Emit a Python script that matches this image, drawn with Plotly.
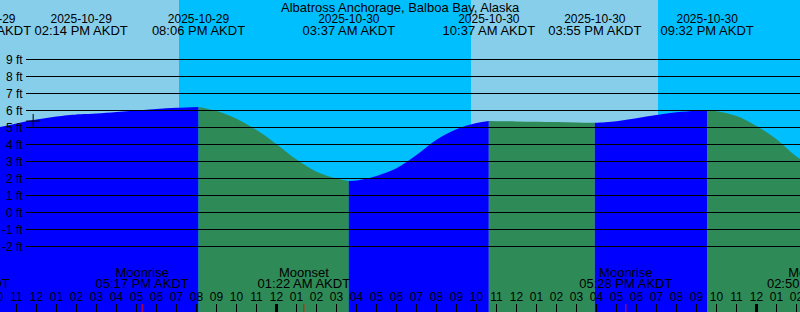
import plotly.graph_objects as go
import pandas as pd

# ---------------- data ----------------
station = "Albatross Anchorage, Balboa Bay, Alaska"
tz_label = "AKDT"

curve_times = [
    "2025-10-29 10:00", "2025-10-29 11:00", "2025-10-29 12:00", "2025-10-29 13:00",
    "2025-10-29 14:00", "2025-10-29 14:14", "2025-10-29 15:00", "2025-10-29 16:00",
    "2025-10-29 17:00", "2025-10-29 18:00", "2025-10-29 19:00", "2025-10-29 20:06",
    "2025-10-29 21:00", "2025-10-29 22:00", "2025-10-29 23:00", "2025-10-30 00:00",
    "2025-10-30 01:00", "2025-10-30 02:00", "2025-10-30 03:00", "2025-10-30 03:37",
    "2025-10-30 04:00", "2025-10-30 05:00", "2025-10-30 06:00", "2025-10-30 07:00",
    "2025-10-30 08:00", "2025-10-30 09:00", "2025-10-30 10:00", "2025-10-30 10:37",
    "2025-10-30 11:00", "2025-10-30 12:00", "2025-10-30 13:00", "2025-10-30 14:00",
    "2025-10-30 15:00", "2025-10-30 15:55", "2025-10-30 16:00", "2025-10-30 17:00",
    "2025-10-30 18:00", "2025-10-30 19:00", "2025-10-30 20:00", "2025-10-30 21:00",
    "2025-10-30 21:32", "2025-10-30 22:00", "2025-10-30 23:00", "2025-10-31 00:00",
    "2025-10-31 01:00", "2025-10-31 02:00", "2025-10-31 03:00",
]
curve_feet = [
    4.98, 5.24, 5.47, 5.65,
    5.77, 5.78, 5.82, 5.91,
    6.00, 6.09, 6.16, 6.21,
    5.97, 5.52, 4.85, 4.02,
    3.12, 2.40, 2.00, 1.85,
    1.88, 2.15, 2.60, 3.38,
    4.28, 4.90, 5.26, 5.38,
    5.37, 5.36, 5.34, 5.32,
    5.30, 5.28, 5.28, 5.37,
    5.54, 5.73, 5.89, 5.98,
    6.01, 5.96, 5.68, 5.09,
    4.31, 3.30, 2.60,
]

extreme_times = ["2025-10-29 20:06", "2025-10-30 03:37", "2025-10-30 10:37",
                 "2025-10-30 15:55", "2025-10-30 21:32"]

tide_label_times = ["2025-10-29 09:25", "2025-10-29 14:14", "2025-10-29 20:06",
                    "2025-10-30 03:37", "2025-10-30 10:37", "2025-10-30 15:55",
                    "2025-10-30 21:32"]

moon_times = ["2025-10-29 08:21", "2025-10-29 17:17", "2025-10-30 01:22",
              "2025-10-30 17:28", "2025-10-31 02:50"]
moon_names = ["First Quarter", "Moonrise", "Moonset", "Moonrise", "Moonset"]
moon_ticks = ["2025-10-29 17:17", "2025-10-30 01:22", "2025-10-30 17:28"]

sunset_sunrise = ["2025-10-29 19:07:30", "2025-10-30 09:43:30", "2025-10-30 19:04:30"]

grid_feet = [-2, -1, 0, 1, 2, 3, 4, 5, 6, 7, 8, 9]

now_time = "2025-10-29 11:50"
now_feet = 5.38

view_start = pd.Timestamp("2025-10-29 10:10:30")
view_end = pd.Timestamp("2025-10-31 02:10:30")
feet_range = [-5.853, 12.5]

# ---------------- style ----------------
W, H = 800, 312
DAY = "#87CEEB"
NIGHT = "#00BFFF"
FLOOD = "#0000FF"
EBB = "#2E8B57"
FONT = "Liberation Sans, Arial, sans-serif"
FS_SMALL = 12
FS_BIG = 13


def ypx(p):
    """pixel row -> feet on the y axis"""
    return feet_range[1] - p * (feet_range[1] - feet_range[0]) / H


def font(size):
    return dict(family=FONT, size=size, color="black")


ct = pd.to_datetime(curve_times)
ext = pd.to_datetime(extreme_times)

fig = go.Figure()

# day / night sky
bounds = [view_start] + list(pd.to_datetime(sunset_sunrise)) + [view_end]
shapes = []
for i in range(len(bounds) - 1):
    shapes.append(dict(type="rect", xref="x", yref="paper", x0=bounds[i], x1=bounds[i + 1],
                       y0=0, y1=1, fillcolor=DAY if i % 2 == 0 else NIGHT,
                       line=dict(width=0), layer="below"))

# water fill, coloured by rising (flood) / falling (ebb)
seg_bounds = [ct[0]] + list(ext) + [ct[-1]]
ybot = feet_range[0]
for i in range(len(seg_bounds) - 1):
    a, b = seg_bounds[i], seg_bounds[i + 1]
    xs = [t for t in ct if a <= t <= b]
    ys = [f for t, f in zip(ct, curve_feet) if a <= t <= b]
    col = FLOOD if ys[-1] > ys[0] else EBB
    fig.add_trace(go.Scatter(x=[a, b], y=[ybot, ybot], mode="lines",
                             line=dict(width=0), hoverinfo="skip", showlegend=False))
    fig.add_trace(go.Scatter(x=xs, y=ys, mode="lines", fill="tonexty", fillcolor=col,
                             line=dict(width=0, shape="spline", smoothing=1),
                             hoverinfo="skip", showlegend=False))

# horizontal grid lines (drawn above water)
for f in grid_feet:
    shapes.append(dict(type="line", xref="paper", yref="y", x0=26 / W, x1=1, y0=f, y1=f,
                       line=dict(color="black", width=1), layer="above"))

annotations = []
for f in grid_feet:
    annotations.append(dict(xref="paper", yref="y", x=24 / W, y=f, xanchor="right",
                            yanchor="middle", text=f"{f} ft", showarrow=False, borderpad=0,
                            font=font(FS_SMALL)))

# hour ticks and labels
hours = pd.date_range("2025-10-29 10:00", "2025-10-31 03:00", freq="h")
tx, ty, mx, my = [], [], [], []
for h in hours:
    if h.hour == 0:
        mx += [h, h, None]
        my += [ypx(304), ypx(312), None]
    else:
        tx += [h, h, None]
        ty += [ypx(304), ypx(312), None]
fig.add_trace(go.Scatter(x=tx, y=ty, mode="lines", line=dict(color="black", width=1),
                         hoverinfo="skip", showlegend=False))
fig.add_trace(go.Scatter(x=mx, y=my, mode="lines", line=dict(color="black", width=3),
                         hoverinfo="skip", showlegend=False))
rx, ry = [], []
for m in pd.to_datetime(moon_ticks):
    rx += [m, m, None]
    ry += [ypx(304), ypx(312), None]
fig.add_trace(go.Scatter(x=rx, y=ry, mode="lines", line=dict(color="red", width=1),
                         hoverinfo="skip", showlegend=False))
fig.add_trace(go.Scatter(x=hours, y=[ypx(297.5)] * len(hours), mode="text",
                         text=[h.strftime("%I") for h in hours], textposition="middle center",
                         textfont=font(FS_SMALL), hoverinfo="skip", showlegend=False))

# tide event labels (top)
tl = pd.to_datetime(tide_label_times)
fig.add_trace(go.Scatter(x=tl, y=[ypx(19.5)] * len(tl), mode="text",
                         text=[t.strftime("%Y-%m-%d") for t in tl], textposition="middle center",
                         textfont=font(FS_SMALL), hoverinfo="skip", showlegend=False))
fig.add_trace(go.Scatter(x=tl, y=[ypx(31.3)] * len(tl), mode="text",
                         text=[t.strftime("%I:%M %p ") + tz_label for t in tl],
                         textposition="middle center",
                         textfont=font(FS_BIG), hoverinfo="skip", showlegend=False))

# moon event labels (bottom)
mt = pd.to_datetime(moon_times)
fig.add_trace(go.Scatter(x=mt, y=[ypx(273.8)] * len(mt), mode="text", text=moon_names,
                         textposition="middle center",
                         textfont=font(FS_BIG), hoverinfo="skip", showlegend=False))
fig.add_trace(go.Scatter(x=mt, y=[ypx(285.2)] * len(mt), mode="text",
                         text=[t.strftime("%I:%M %p ") + tz_label for t in mt],
                         textposition="middle center",
                         textfont=font(FS_BIG), hoverinfo="skip", showlegend=False))

# current-time mark
fig.add_trace(go.Scatter(x=[pd.Timestamp(now_time)], y=[now_feet], mode="markers",
                         marker=dict(symbol="cross-thin", size=10,
                                     line=dict(color="black", width=1)),
                         hoverinfo="skip", showlegend=False))

# title
annotations.append(dict(xref="paper", yref="y", x=0.5, y=ypx(7.5), xanchor="center",
                        yanchor="middle", text=station, showarrow=False, borderpad=0,
                        font=font(FS_BIG)))

fig.update_layout(
    width=W, height=H, autosize=False,
    margin=dict(l=0, r=0, t=0, b=0, pad=0),
    paper_bgcolor=DAY, plot_bgcolor=DAY,
    shapes=shapes, annotations=annotations,
    xaxis=dict(type="date", range=[view_start, view_end], visible=False, fixedrange=True),
    yaxis=dict(range=feet_range, visible=False, fixedrange=True),
    showlegend=False,
)

fig.write_html("out.html", config=dict(displayModeBar=False))
